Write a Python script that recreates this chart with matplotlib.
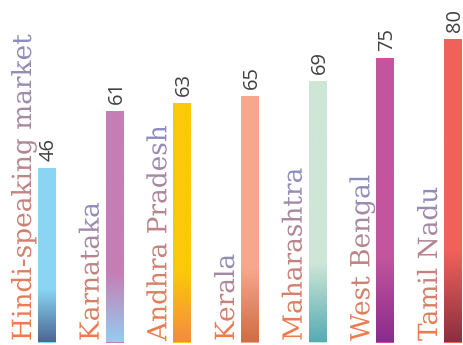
import numpy as np
import matplotlib
matplotlib.use("Agg")
import matplotlib.pyplot as plt
from matplotlib.colors import to_rgb
from matplotlib.patheffects import AbstractPathEffect
from matplotlib.transforms import TransformedPath

states = ["Hindi-speaking market", "Karnataka", "Andhra Pradesh", "Kerala",
          "Maharashtra", "West Bengal", "Tamil Nadu"]
values = [46, 61, 63, 65, 69, 75, 80]
top_colors = ["#8ad5f3", "#c77db5", "#fdc90b", "#f6a88e", "#cde6d6", "#c3569e", "#f0625a"]
bottom_colors = ["#4a6792", "#94ccef", "#f68b3d", "#cd6e42", "#56abb3", "#8b2b8c", "#8c2e40"]
label_bottom = "#f47a48"
label_top = "#8a8fc2"


class GradientText(AbstractPathEffect):
    """Fill a text path with a vertical gradient (bottom -> top)."""

    def __init__(self, c_bottom, c_top):
        super().__init__()
        self.c0 = np.array(to_rgb(c_bottom))
        self.c1 = np.array(to_rgb(c_top))

    def draw_path(self, renderer, gc, tpath, affine, rgbFace=None):
        ext = affine.transform_path(tpath).get_extents()
        x0, y0 = int(np.floor(ext.x0)) - 1, int(np.floor(ext.y0)) - 1
        w = int(np.ceil(ext.x1)) - x0 + 1
        h = int(np.ceil(ext.y1)) - y0 + 1
        t = np.linspace(0, 1, h)[:, None]
        rgb = self.c0 + (self.c1 - self.c0) * t
        img = np.ones((h, w, 4))
        img[:, :, :3] = rgb[:, None, :]
        img = (img * 255).astype(np.uint8)
        gc0 = renderer.new_gc()
        gc0.copy_properties(gc)
        gc0.set_clip_path(TransformedPath(tpath, affine))
        renderer.draw_image(gc0, x0, y0, img)
        gc0.restore()


fig = plt.figure(figsize=(4.63, 3.45), dpi=100)
ax = fig.add_axes([0, 2.5 / 345, 1, 342.5 / 345])
ax.set_xlim(-0.695, 6.148)
ax.set_ylim(0, 90.27)
ax.axis("off")

x = np.arange(len(values))
bars = ax.bar(x, values, width=0.266, color=top_colors, linewidth=0, zorder=2)

for bar, ctop, cbot in zip(bars, top_colors, bottom_colors):
    # solid on top, blending into the darker tone over the lowest 30%
    h = bar.get_height()
    ys = np.linspace(-2, h, 300)
    mix = np.clip(ys / (0.3 * h), 0, 1)[:, None]
    rgb = np.array(to_rgb(cbot)) + (np.array(to_rgb(ctop)) - np.array(to_rgb(cbot))) * mix
    im = ax.imshow(rgb[:, None, :], extent=(bar.get_x() - 0.02, bar.get_x() + bar.get_width() + 0.02, -2, h),
                   origin="lower", aspect="auto", interpolation="bilinear", zorder=3)
    im.set_clip_path(bar)

for bar, name, v in zip(bars, states, values):
    ax.annotate(name, xy=(bar.get_x(), 0), xytext=(-7, 1.5), textcoords="offset pixels",
                rotation=90, rotation_mode="anchor", ha="left", va="baseline",
                fontsize=19, family="DejaVu Serif",
                path_effects=[GradientText(label_bottom, label_top)])
    ax.annotate(str(v), xy=(bar.get_x() + bar.get_width() / 2, v), xytext=(7, 7),
                textcoords="offset pixels", rotation=90, rotation_mode="anchor",
                ha="left", va="baseline", fontsize=14.5, family="Open Sans", color="#404040")

fig.savefig("out.png", dpi=100)
